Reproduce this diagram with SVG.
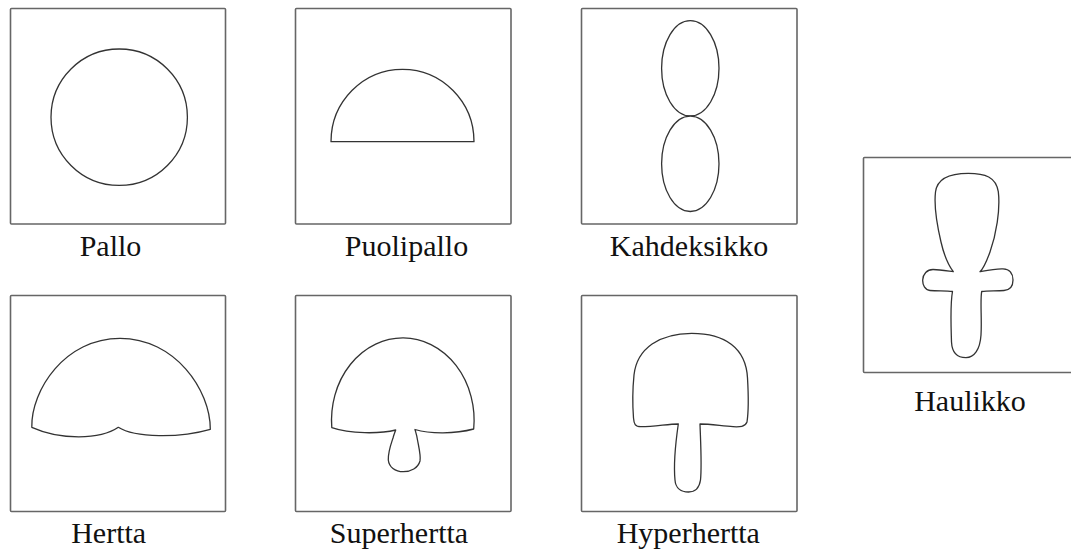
<svg xmlns="http://www.w3.org/2000/svg" width="1071" height="552" viewBox="0 0 1071 552">
<style>
.box{fill:#fff;stroke:#666;stroke-width:1.6}
.shape{fill:#fff;stroke:#333;stroke-width:1.3;stroke-linejoin:round}
.lbl{font-family:"Liberation Serif","Times New Roman",serif;font-size:30px;fill:#111;text-anchor:middle}
</style>
<rect width="1071" height="552" fill="#fff"/>
<g id="pallo">
<rect class="box" x="10.5" y="8.5" width="215" height="215.5" rx="1"/>
<circle class="shape" cx="119.2" cy="117.2" r="68.2"/>
<text class="lbl" x="110.5" y="256">Pallo</text>
</g>
<g id="puolipallo">
<rect class="box" x="295.5" y="8.5" width="215.5" height="215.5" rx="1"/>
<path class="shape" d="M331,141.7 A71.5,72.4 0 0 1 474,141.7 Z"/>
<text class="lbl" x="406.5" y="256">Puolipallo</text>
</g>
<g id="kahdeksikko">
<rect class="box" x="581.5" y="8.5" width="215.5" height="215.5" rx="1"/>
<ellipse class="shape" cx="690.3" cy="68.3" rx="28.7" ry="47.7"/>
<ellipse class="shape" cx="690.3" cy="163.8" rx="28.7" ry="47.7"/>
<text class="lbl" x="689" y="256">Kahdeksikko</text>
</g>
<g id="hertta">
<rect class="box" x="10.5" y="295.5" width="215" height="216" rx="1"/>
<path class="shape" d="M31.8,427.3 C31,390 65,338.3 120,338.3 C175,338.3 210.5,390 210.3,429.3 C180,438 135,438 118.3,427.3 C100,440 60,440 31.8,427.3 Z"/>
<text class="lbl" x="108.7" y="543">Hertta</text>
</g>
<g id="superhertta">
<rect class="box" x="295.5" y="295.5" width="215.5" height="216" rx="1"/>
<path class="shape" d="M331.8,427.7 A71.3,82.3 0 1 1 473.7,429 C455,434 430,434 415,429.5 C416,433 417,436 417.5,440 C419,448 421,456 420,461 C418,468 411,471.7 403.3,471.7 C395,471.7 389,467 388.3,460 C388,452 391,444 393,438 C394,434 395,432 395.7,430 C380,434 350,434 331.8,427.7 Z"/>
<text class="lbl" x="399" y="543">Superhertta</text>
</g>
<g id="hyperhertta">
<rect class="box" x="581.5" y="295.5" width="215.5" height="216" rx="1"/>
<path class="shape" d="M691.7,333.3 C725,333.3 746,348 747.5,378 C748.5,395 748.5,412 747,422 C745,427 740,427 733,426.7 C722,426 710,424 700,424 C700.5,440 702,465 700.5,480 C699,490 694,492 688.5,492 C681,492 675.5,488 675,480 C673.5,465 676,440 678.3,424 C668,424 655,426.7 641,426.7 C635,426.7 634,424 633.5,418 C632.5,405 632.5,390 634,375 C637,348 660,333.3 691.7,333.3 Z"/>
<text class="lbl" x="688.3" y="543">Hyperhertta</text>
</g>
<g id="haulikko">
<rect class="box" x="863.5" y="157.5" width="220" height="215" rx="1"/>
<path class="shape" d="M968.3,173.3 C985,173.3 996,177 998.3,191.7 C1000.5,210 996,235 990,252 C986,263 983,269 980,271.7 C986,270.5 995,268.5 1003,268.8 C1010,269 1013,274 1013,280 C1013,286 1010,290 1004,290.5 C996,291.2 988,290.5 981.7,291.5 C980,300 982,320 981,335 C980,350 974,357.7 966,357.7 C957,357.7 952,352 951.5,342 C951,325 950,305 952.5,291.5 C946,290.5 938,291.2 930,290.5 C925,290 922.5,285 922.7,280 C923,274 927,269.5 933,269.5 C940,269.5 948,271 953.3,271.7 C949,266 944,255 941,242 C937,225 934,205 935.5,192 C937,179 950,173.3 968.3,173.3 Z"/>
<text class="lbl" x="970" y="411">Haulikko</text>
</g>
<g id="connectors"/>
</svg>
